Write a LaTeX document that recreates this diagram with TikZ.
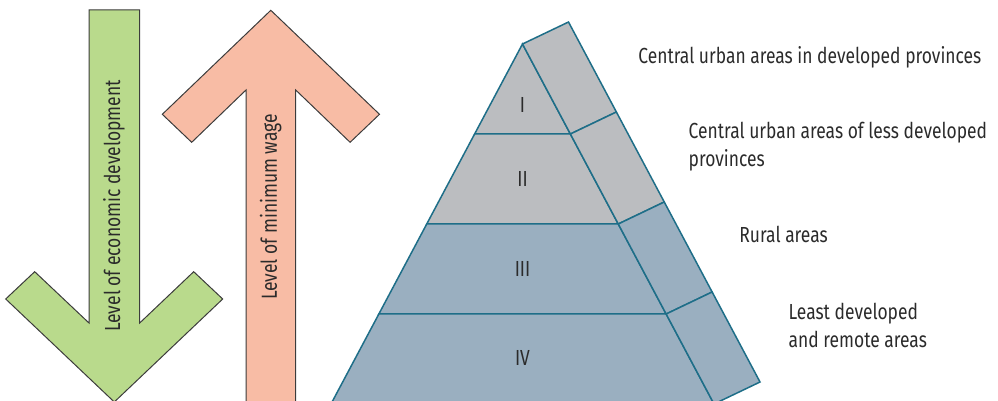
\documentclass[tikz,border=0pt]{standalone}
\usepackage{fontspec}
\setmainfont{Fira Sans}[FakeStretch=0.80]
\usepackage{tikz}
\definecolor{ecofill}{HTML}{B9DA8C}
\definecolor{wagefill}{HTML}{F8BCA5}
\definecolor{arrline}{HTML}{3C3C3C}
\definecolor{grayfill}{HTML}{BBBDC0}
\definecolor{bluefill}{HTML}{9AAFC0}
\definecolor{pyrline}{HTML}{1E6E88}
\definecolor{txt}{HTML}{2B2B2B}

\begin{document}
\begin{tikzpicture}[x=0.5pt,y=-0.5pt,line join=miter,
   font=\fontsize{10.9}{14.3}\selectfont,
   bigarrow/.style={draw=arrline,line width=0.5pt},
   face/.style={draw=pyrline,line width=0.75pt},
   tag/.style={text=txt,anchor=base west,align=left,inner sep=0pt},
   num/.style={text=txt,inner sep=0pt}]
  \useasboundingbox (0,0) rectangle (998,401);
  \draw[bigarrow,fill=ecofill] (89,10) -- (139.7,10) -- (139.7,323) -- (193.7,271.7) -- (222.7,299)
     -- (114.3,402) -- (5.7,299) -- (34.7,271.7) -- (89,323) -- cycle;
  \draw[bigarrow,fill=wagefill] (246,412) -- (246,90) -- (191.7,142.3) -- (162.3,114.3) -- (270.8,10.3)
     -- (379.5,114.3) -- (350.1,142.3) -- (295.7,90) -- (295.7,412) -- cycle;
  \node[num,rotate=90] (econ) at (114,206) {Level of economic development};
  \node[num,rotate=90] (wage) at (270.8,207) {Level of minimum wage};
  \foreach \k/\col/\lab/\ly in {1/grayfill/I/105,2/grayfill/II/179,3/bluefill/III/269,4/bluefill/IV/358}{
    \pgfmathsetmacro\ya{44+90*(\k-1)}
    \pgfmathsetmacro\yb{44+90*\k}
    \pgfmathsetmacro\ha{47.88*(\k-1)}
    \pgfmathsetmacro\hb{47.88*\k}
    \draw[face,fill=\col] (522.5-\ha,\ya) -- (522.5+\ha,\ya) -- (522.5+\hb,\yb) -- (522.5-\hb,\yb) -- cycle;
    \draw[face,fill=\col] (522.5+\ha,\ya) -- (568.5+\ha,\ya-22) -- (568.5+\hb,\yb-22) -- (522.5+\hb,\yb) -- cycle;
    \node[num] (tier\k) at (522.5,\ly) {\lab};
  }
  \node[tag] (urbdev) at (638,63.3) {Central urban areas in developed provinces};
  \node[tag] (urbless) at (688.3,166.7) {Central urban areas of less developed\\provinces};
  \node[tag] (rural) at (739,242.7) {Rural areas};
  \node[tag] (remote) at (788.3,347.7) {Least developed\\and remote areas};
\end{tikzpicture}
\end{document}
